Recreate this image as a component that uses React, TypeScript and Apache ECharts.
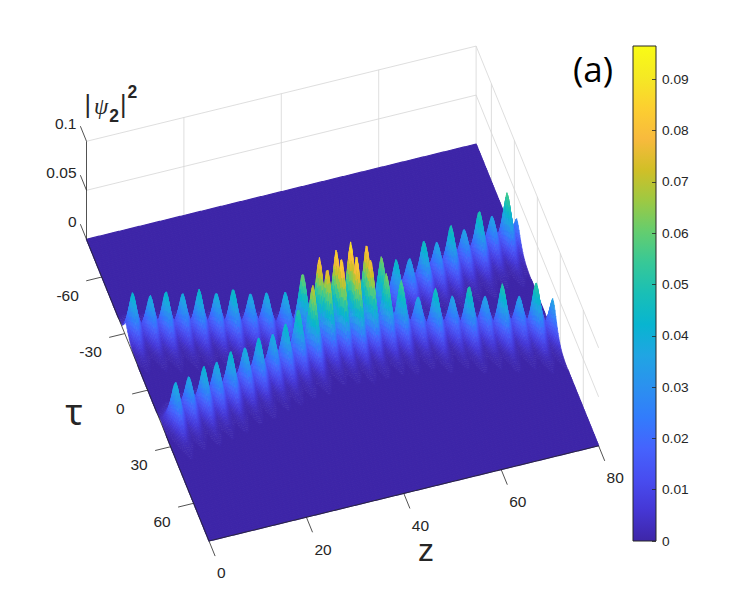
import React, { useRef, useEffect } from "react"
import * as echarts from "echarts"

// peaks: propagation distance, delay, height
const upperZ = [1.4, 4.8, 7.7, 11.0, 14.0, 17.3, 20.3, 23.7, 26.7, 30.2, 33.3, 36.2, 39.6, 42.6, 45.8, 49.2, 53.0, 56.3, 59.5, 62.6, 65.6, 68.7, 71.9, 74.9, 78.0, 80.4]
const upperTau = [-28.5, -27.1, -25.1, -24.2, -21.8, -20.3, -17.4, -16.4, -14.5, -12.3, -9.4, -6.2, -5.7, -6, -5.5, -7.6, -12.5, -16, -17.6, -20.4, -21.2, -23.5, -24.2, -26.6, -26.8, -27]
const upperH = [0.043, 0.039, 0.044, 0.039, 0.044, 0.04, 0.046, 0.039, 0.04, 0.04, 0.062, 0.08, 0.084, 0.088, 0.082, 0.062, 0.045, 0.036, 0.047, 0.036, 0.048, 0.036, 0.05, 0.036, 0.055, 0.032]
const lowerZ = [2.9, 6.0, 9.2, 12.1, 15.2, 18.5, 21.5, 24.7, 27.5, 30.5, 33.6, 37.1, 39.9, 42.8, 45.7, 48.8, 51.6, 54.9, 58.0, 61.4, 64.3, 67.5, 70.6, 73.9, 76.9, 80.1]
const lowerTau = [18, 15.7, 14.9, 13.1, 11.8, 9.5, 8.3, 6.3, 5.1, 2.7, 1.8, -1.4, -0.7, 0.5, 0.3, 1.2, 2.9, 4, 6.9, 7.5, 10.8, 11.2, 14.2, 15.2, 18.1, 20.1]
const lowerH = [0.04, 0.037, 0.042, 0.04, 0.044, 0.04, 0.044, 0.04, 0.045, 0.052, 0.07, 0.078, 0.086, 0.086, 0.08, 0.062, 0.055, 0.037, 0.047, 0.036, 0.05, 0.036, 0.05, 0.036, 0.052, 0.036]

const zTicks = [0, 20, 40, 60, 80]
const tauTicks = [-60, -30, 0, 30, 60]
const heightTicks = [0, 0.05, 0.1]
const colorTop = 0.0965

const parula = [
  "#3E26A8", "#4537D5", "#484DF0", "#4563FD", "#327CFC", "#2B91EF", "#20A5E3", "#08B5D0", "#19BFB6",
  "#37C897", "#64CD6F", "#9DC943", "#D1BF27", "#F8BA3D", "#FCCF30", "#F5E924", "#F9FB15",
]

// view of the 3D box, fixed like the camera of the original figure
const originX = 86.5
const originY = 239.3
const zStepX = 4.87
const zStepY = -1.19
const tauStepX = 0.7656
const tauStepY = 1.8856
const heightScale = 980

const project = (z: number, tau: number, h: number) => [
  originX + zStepX * z + tauStepX * (tau + 80),
  originY + zStepY * z + tauStepY * (tau + 80) - heightScale * h,
]

const peakWidthZ = 1.25
const peakBackTau = 3.2
const peakFrontTau = 6.5

const strand = (zs: number[], taus: number[], hs: number[], z: number, tau: number) => {
  let top = 0
  zs.forEach((zp, i) => {
    const dt = tau - taus[i]
    // the streak in front of a peak gets thinner towards its end
    const narrowing = dt > 0 ? 1 - 0.35 * Math.tanh(dt / peakFrontTau) : 1
    const dz = Math.abs(z - zp) / (peakWidthZ * narrowing)
    if (dz > 6) return
    const c = Math.cosh(dt / (dt < 0 ? peakBackTau : peakFrontTau))
    top = Math.max(top, (hs[i] * Math.exp(-Math.pow(dz, 1.35))) / (c * c))
  })
  return top
}

const surface = (z: number, tau: number) =>
  Math.max(strand(upperZ, upperTau, upperH, z, tau), strand(lowerZ, lowerTau, lowerH, z, tau))

const hexToRgb = (hex: string) => [1, 3, 5].map((i) => parseInt(hex.slice(i, i + 2), 16))
const paletteRgb = parula.map(hexToRgb)
const LEVELS = 160
const levelColor = (level: number) => {
  const p = (level / (LEVELS - 1)) * (parula.length - 1)
  const i = Math.min(Math.floor(p), parula.length - 2)
  const f = p - i
  const c = paletteRgb[i].map((v, k) => Math.round(v + (paletteRgb[i + 1][k] - v) * f))
  return `rgb(${c[0]},${c[1]},${c[2]})`
}
const toLevel = (h: number) => Math.min(LEVELS - 1, Math.round((h / colorTop) * (LEVELS - 1)))

// cut the surface in strips, back to front, and join the cells of one colour
const buildStrips = () => {
  const dz = 0.2
  const dTau = 1
  const nz = Math.round(80 / dz)
  const nTau = Math.round(160 / dTau)
  const strips: { points: number[][]; color: string; width: number }[] = []
  let upperRow: number[] = []
  for (let j = 0; j <= nz; j++) upperRow.push(surface(j * dz, -80))
  for (let i = 0; i < nTau; i++) {
    const t0 = -80 + i * dTau
    const t1 = t0 + dTau
    const lowerRow: number[] = []
    for (let j = 0; j <= nz; j++) lowerRow.push(surface(j * dz, t1))
    const cellLevel = (j: number) => toLevel(Math.max(upperRow[j], upperRow[j - 1], lowerRow[j], lowerRow[j - 1]))
    let end = nz
    while (end > 0) {
      const level = cellLevel(end)
      let start = end - 1
      while (start > 0 && cellLevel(start) === level) start--
      const points: number[][] = []
      for (let j = start; j <= end; j++) points.push(project(j * dz, t0, upperRow[j]))
      for (let j = end; j >= start; j--) points.push(project(j * dz, t1, lowerRow[j]))
      strips.push({ points, color: levelColor(level), width: level === 0 ? 1.2 : 0.7 })
      end = start
    }
    upperRow = lowerRow
  }
  return strips
}

const line = (a: number[], b: number[], stroke: string, z: number, lineWidth = 0.8) => ({
  type: "line",
  z,
  silent: true,
  shape: { x1: a[0], y1: a[1], x2: b[0], y2: b[1] },
  style: { stroke, lineWidth },
})

const label = (text: string, x: number, y: number, fontSize: number, align = "center", color = "#262626", fontFamily = "Liberation Sans", lineHeight = fontSize) => ({
  type: "text",
  z: 6,
  silent: true,
  x,
  y,
  style: { text, fontSize, fontFamily, fill: color, align, verticalAlign: "middle", lineHeight },
})

const buildGraphic = () => {
  const grid = "#d6d6d6"
  const axis = "#262626"
  const els: any[] = []

  // back walls
  heightTicks.slice(1).forEach((h) => {
    els.push(line(project(0, -80, h), project(80, -80, h), grid, 1))
    els.push(line(project(80, -80, h), project(80, 80, h), grid, 1))
  })
  zTicks.slice(1).forEach((z) => els.push(line(project(z, -80, 0), project(z, -80, 0.1), grid, 1)))
  tauTicks.forEach((t) => els.push(line(project(80, t, 0), project(80, t, 0.1), grid, 1)))

  // axes in front of the surface
  els.push(line(project(0, -80, 0), project(0, -80, 0.1), axis, 5))
  els.push(line(project(0, -80, 0), project(0, 80, 0), axis, 5))
  els.push(line(project(0, 80, 0), project(80, 80, 0), axis, 5))

  zTicks.forEach((z) => {
    const p = project(z, 80, 0)
    els.push(line(p, project(z, 88, 0), axis, 5))
    els.push(label(String(z), p[0] + 8, p[1] + 32, 15.5, "left"))
  })
  tauTicks.forEach((t) => {
    const p = project(0, t, 0)
    els.push(line(p, project(-3.2, t, 0), axis, 5))
    els.push(label(String(t), p[0] - 23, p[1] + 18, 15.5, "right"))
  })
  heightTicks.forEach((h) => {
    const p = project(0, -80, h)
    els.push(line(p, project(0, -88, h), axis, 5))
    els.push(label(String(h), p[0] - 10, p[1] - 18, 15.5, "right"))
  })

  els.push(label("τ", 74, 411, 36, "center", "#262626", "Noto Sans"))
  els.push(label("z", 426, 550, 32, "center", "#262626", "Liberation Sans", 16))
  els.push(label("(a)", 593, 68, 35, "center", "#000000", "Open Sans"))
  els.push({
    type: "text",
    z: 6,
    silent: true,
    x: 84.5,
    y: 104,
    style: {
      text: "{bar||}{psi|ψ}{sub|2}{bar||}{sup|2}",
      verticalAlign: "middle",
      rich: {
        bar: { fontSize: 25, fontFamily: "Liberation Sans", fill: "#262626", lineHeight: 44, verticalAlign: "middle" },
        psi: { fontSize: 23, fontFamily: "Liberation Serif", fontStyle: "italic", fill: "#262626", lineHeight: 44, verticalAlign: "middle", padding: [4, 0, 0, 3] },
        sub: { fontSize: 17.5, fontFamily: "Liberation Sans", fontWeight: "bold", fill: "#262626", lineHeight: 44, verticalAlign: "bottom", padding: [0, 1, 1, 1] },
        sup: { fontSize: 17.5, fontFamily: "Liberation Sans", fontWeight: "bold", fill: "#262626", lineHeight: 44, verticalAlign: "top", padding: [1, 0, 0, 1] },
      },
    },
  })
  return els
}

export default function App() {
  const chartRef = useRef<HTMLDivElement>(null)

  useEffect(() => {
    if (!chartRef.current) return
    document.body.style.margin = "0"
    const chart = echarts.init(chartRef.current, null, { renderer: "svg" })
    const strips = buildStrips()
    const stops = parula.map((color, i) => ({ offset: i / (parula.length - 1), color }))

    chart.setOption({
      animation: false,
      backgroundColor: "#ffffff",
      graphic: { elements: buildGraphic() },
      grid: { left: 633, top: 46, width: 23, height: 495, show: true, borderColor: "#262626", borderWidth: 1, backgroundColor: "transparent", z: 3 },
      xAxis: { type: "category", data: ["c"], show: false },
      yAxis: {
        type: "value",
        position: "right",
        min: 0,
        max: colorTop,
        interval: 0.01,
        axisLine: { show: false },
        axisTick: { show: true, inside: true, length: 4, lineStyle: { color: "#262626", width: 0.8 } },
        splitLine: { show: false },
        axisLabel: {
          color: "#262626",
          fontSize: 13.7,
          fontFamily: "Liberation Sans",
          margin: 6,
          showMaxLabel: false,
          formatter: (v: number) => (v > 0.095 ? "" : String(+v.toFixed(2))),
        },
        z: 4,
      },
      series: [
        {
          type: "bar",
          data: [colorTop],
          barWidth: "100%",
          silent: true,
          z: 1,
          itemStyle: { color: new echarts.graphic.LinearGradient(0, 1, 0, 0, stops) },
        },
        {
          type: "custom",
          coordinateSystem: "none",
          silent: true,
          progressive: 0,
          z: 3,
          data: strips.map((_, i) => [i]),
          renderItem: (params: any) => {
            const s = strips[params.dataIndex]
            return {
              type: "polygon",
              shape: { points: s.points },
              style: { fill: s.color, stroke: s.color, lineWidth: s.width },
            }
          },
        },
      ],
    })

    return () => {
      chart.dispose()
    }
  }, [])

  return <div ref={chartRef} style={{ position: "absolute", left: 0, top: 0, width: 747, height: 609 }} />
}
